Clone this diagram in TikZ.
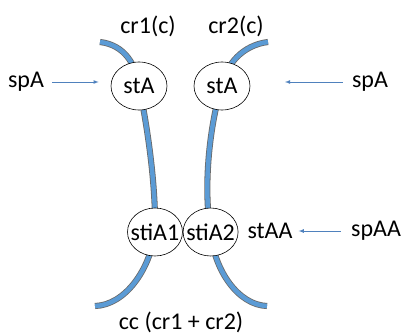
\documentclass[tikz,border=0pt]{standalone}
\usepackage{fontspec}
\setmainfont{Carlito}
\usetikzlibrary{positioning}
\usetikzlibrary{arrows}
\usetikzlibrary{shapes.geometric}
\usetikzlibrary{backgrounds}
\definecolor{chromblue}{RGB}{91,155,213}
\definecolor{chromedge}{RGB}{105,105,105}
\definecolor{arrowblue}{RGB}{79,129,189}

\begin{document}
\begin{tikzpicture}[x=1pt, y=-1pt, every node/.style={font=\fontsize{24}{28}\selectfont, inner sep=0pt},
    chromatid/.style={draw=chromedge, line width=0.8pt, double=chromblue, double distance=4.5pt},
    centro/.style={ellipse, draw, fill=white, line width=0.6pt, inner xsep=-7pt, minimum width=56pt, minimum height=48pt},
    sig/.style={draw=arrowblue, line width=0.8pt, -latex}]

        \useasboundingbox (0,0) rectangle (404,335);

        % Centromeres
        \node[centro] (stAl) at (139,86) {stA};
        \node[centro] (stAr) at (222,86) {stA};
        \node[centro, minimum width=55pt] (stiAa) at (155,232) {stiA1};
        \node[centro, minimum width=55pt, right=0pt of stiAa] (stiAb) {stiA2};

        % Chromatid ends
        \coordinate (cr1top) at (100,42);
        \coordinate (cr1end) at (95,306);
        \coordinate (cr2top) at (268,42);
        \coordinate (cr2end) at (267,306);

        % Chromatids
        \begin{scope}[on background layer]
            \draw[chromatid] (cr1top) .. controls (125,45) and (136,65) .. (stAl.center)
                .. controls (146,120) and (156,180) .. (stiAa.center)
                .. controls (150,270) and (125,305) .. (cr1end);
            \draw[chromatid] (cr2top) .. controls (243,45) and (226,64) .. (stAr.center)
                .. controls (212,115) and (202,180) .. (stiAb.center)
                .. controls (214,270) and (238,305) .. (cr2end);
        \end{scope}

        % Labels
        \node (cr1lbl) at (148,26) {cr1(c)};
        \node (cr2lbl) at (236,26) {cr2(c)};
        \node (spAl) at (26,82) {spA};
        \node (spAr) at (370,82) {spA};
        \node (stAA) at (270,231) {stAA};
        \node (spAA) at (376,231) {spAA};
        \node (cc) at (181,322) {cc (cr1 + cr2)};

        % Arrows
        \coordinate (tipR) at (285,82);
        \draw[sig, shorten <=8pt, shorten >=12pt] (spAl.east) -- (spAl.east -| stAl.west);
        \draw[sig, shorten <=9pt] (spAr.west) -- (tipR);
        \draw[sig, shorten <=10pt, shorten >=6pt] (spAA.west) -- (stAA.east);

    \end{tikzpicture}
\end{document}
